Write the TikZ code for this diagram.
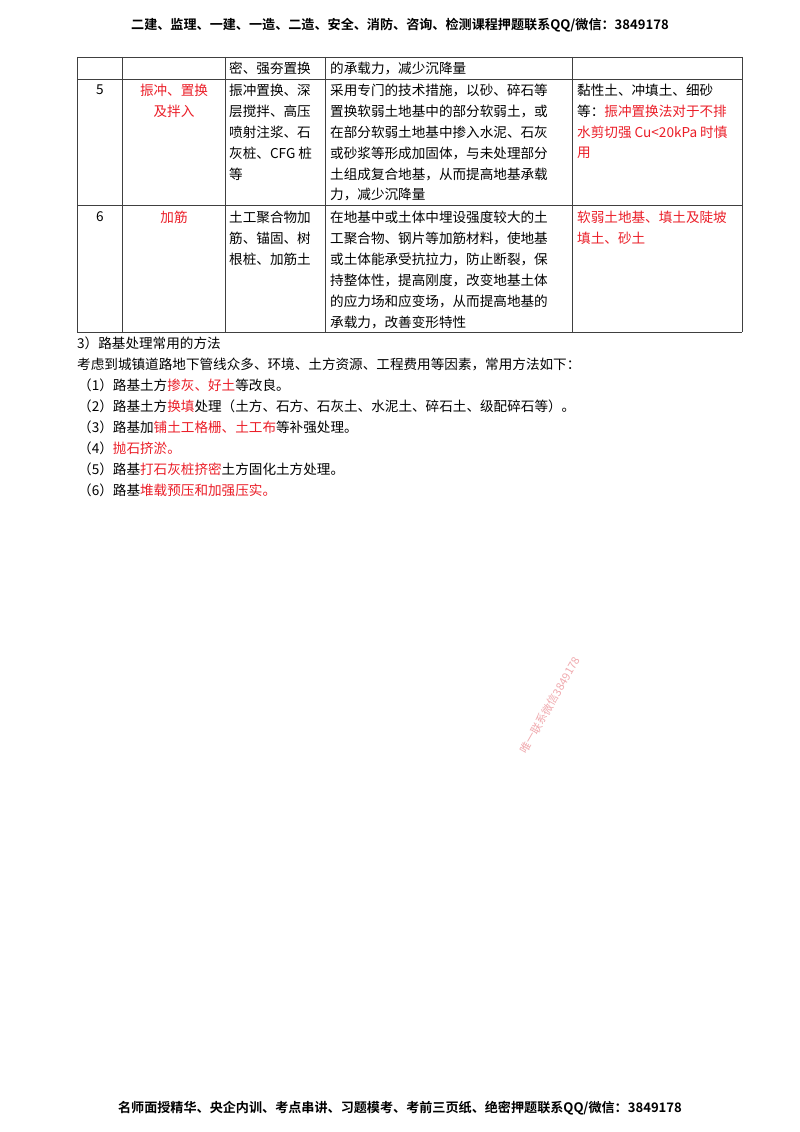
\documentclass[tikz,border=0pt]{standalone}
\usepackage{fontspec}
\setmainfont{Noto Sans CJK SC}
\newfontfamily\cjkb{Noto Sans CJK SC Bold}
\definecolor{rd}{RGB}{235,30,40}
\definecolor{wm}{RGB}{240,170,175}
\tikzset{x=1pt,y=-1pt,
 t/.style={anchor=west,inner sep=0pt,font=\fontsize{13.6}{14}\selectfont},
 grid/.style={line width=0.8pt,draw=black!75}}
\newcommand{\R}[1]{\textcolor{rd}{#1}}
\begin{document}
\begin{tikzpicture}
\useasboundingbox (0,0) rectangle (800,1132);
\fill[white] (0,0) rectangle (800,1132);
\node[font=\cjkb\fontsize{13.1}{14}\selectfont,inner sep=0pt] (hd) at (400,25) {二建、监理、一建、一造、二造、安全、消防、咨询、检测课程押题联系QQ/微信：3849178};
\node[font=\cjkb\fontsize{13.1}{14}\selectfont,inner sep=0pt] (ft) at (400,1108) {名师面授精华、央企内训、考点串讲、习题模考、考前三页纸、绝密押题联系QQ/微信：3849178};
% table grid
\draw[grid] (77,57) -- (742,57);
\draw[grid] (77,79) -- (742,79);
\draw[grid] (77,205) -- (742,205);
\draw[grid] (77,332) -- (742,332);
\foreach \x in {77,122,225,325,572,742} \draw[grid] (\x,57) -- (\x,332);
% row top
\node[t] (a1) at (229,68) {密、强夯置换};
\node[t] (a2) at (330,68) {的承载力，减少沉降量};
% row 5
\node[inner sep=0pt,font=\fontsize{13.6}{14}\selectfont] (n5) at (100,90) {5};
\node[inner sep=0pt,font=\fontsize{13.6}{14}\selectfont,text=rd] (m5a) at (174,90) {振冲、置换};
\node[inner sep=0pt,font=\fontsize{13.6}{14}\selectfont,text=rd] (m5b) at (174,111) {及拌入};
\foreach \s [count=\i] in {振冲置换、深,层搅拌、高压,喷射注浆、石,灰桩、CFG 桩,等}
  \node[t] (c5\i) at (229,69+21*\i) {\s};
\foreach \s [count=\i] in {采用专门的技术措施，以砂、碎石等,置换软弱土地基中的部分软弱土，或,在部分软弱土地基中掺入水泥、石灰,或砂浆等形成加固体，与未处理部分,土组成复合地基，从而提高地基承载,力，减少沉降量}
  \node[t] (d5\i) at (330,69+21*\i) {\s};
\node[t] (e51) at (577,90) {黏性土、冲填土、细砂};
\node[t] (e52) at (577,111) {等：\R{振冲置换法对于不排}};
\node[t,text=rd] (e53) at (577,132) {水剪切强 Cu<20kPa 时慎};
\node[t,text=rd] (e54) at (577,153) {用};
% row 6
\node[inner sep=0pt,font=\fontsize{13.6}{14}\selectfont] (n6) at (100,217) {6};
\node[inner sep=0pt,font=\fontsize{13.6}{14}\selectfont,text=rd] (m6) at (174,217) {加筋};
\foreach \s [count=\i] in {土工聚合物加,筋、锚固、树,根桩、加筋土}
  \node[t] (c6\i) at (229,196+21*\i) {\s};
\foreach \s [count=\i] in {在地基中或土体中埋设强度较大的土,工聚合物、钢片等加筋材料，使地基,或土体能承受抗拉力，防止断裂，保,持整体性，提高刚度，改变地基土体,的应力场和应变场，从而提高地基的,承载力，改善变形特性}
  \node[t] (d6\i) at (330,196+21*\i) {\s};
\node[t,text=rd] (e61) at (577,217) {软弱土地基、填土及陡坡};
\node[t,text=rd] (e62) at (577,238) {填土、砂土};
% list
\node[t] (l0) at (77,343) {3）路基处理常用的方法};
\node[t] (l1) at (77,364) {考虑到城镇道路地下管线众多、环境、土方资源、工程费用等因素，常用方法如下：};
\node[t] (l2) at (78,385) {（1）路基土方\R{掺灰、好土}等改良。};
\node[t] (l3) at (78,406) {（2）路基土方\R{换填}处理（土方、石方、石灰土、水泥土、碎石土、级配碎石等）。};
\node[t] (l4) at (78,427) {（3）路基加\R{铺土工格栅、土工布}等补强处理。};
\node[t] (l5) at (78,448) {（4）\R{抛石挤淤。}};
\node[t] (l6) at (78,469) {（5）路基\R{打石灰桩挤密}土方固化土方处理。};
\node[t] (l7) at (78,490) {（6）路基\R{堆载预压和加强压实。}};
% watermark
\node[rotate=60,text=wm,font=\fontsize{11}{12}\selectfont,inner sep=0pt] (wm1) at (550,705) {唯一联系微信3849178};
\end{tikzpicture}
\end{document}
